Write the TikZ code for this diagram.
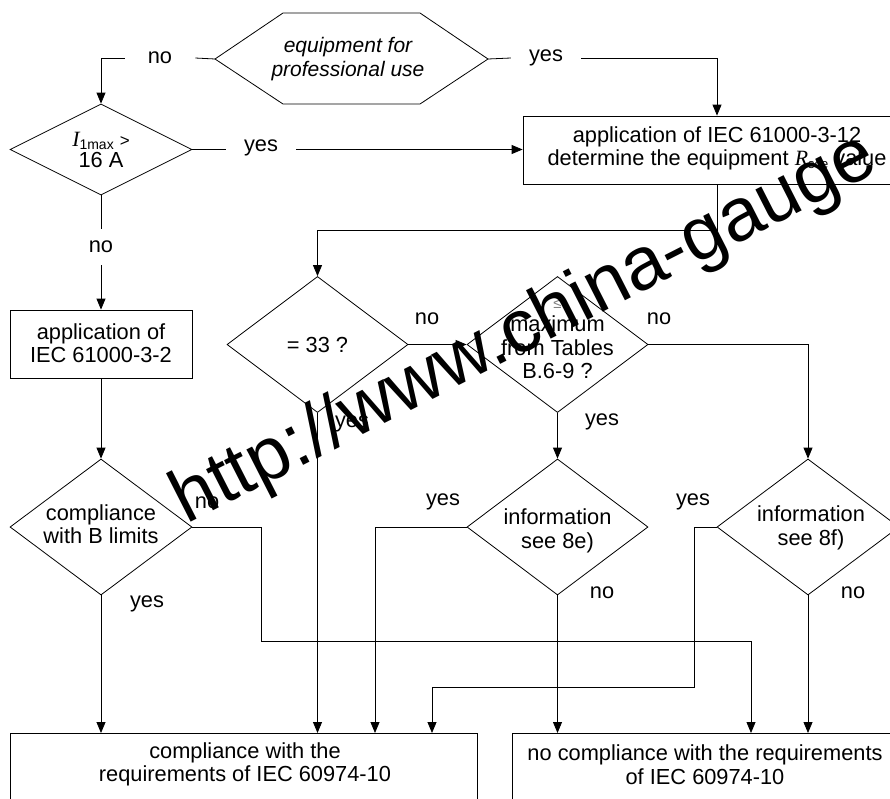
\documentclass[tikz,border=0pt]{standalone}
\usepackage{fontspec}
\setmainfont{Liberation Sans}
\newfontfamily\tmsfont{Liberation Serif}
\usetikzlibrary{shapes.geometric,arrows.meta}
\begin{document}
\begin{tikzpicture}[x=1pt,y=-1pt,
  every node/.style={font=\fontsize{21.8}{23.5}\selectfont},
  dia/.style={draw,diamond,inner sep=0pt,line width=0.8pt},
  box/.style={draw,rectangle,inner sep=0pt,line width=0.8pt},
  txt/.style={align=center,inner sep=0pt},
  lbl/.style={inner sep=0pt},
  con/.style={line width=0.8pt},
  arr/.style={con,-{Triangle[length=11pt,width=9pt]}},
  wm/.style={font=\fontsize{75}{75}\selectfont,inner sep=0pt,anchor=base west,rotate=27}
]
\clip (0,0) rectangle (890,798);
% hexagon
\coordinate (hexL) at (215,59);
\coordinate (hexR) at (488,59);
\draw[line width=0.8pt] (hexL) -- (283,13) -- (420,13) -- (hexR) -- (420,104) -- (283,104) -- cycle;
\node[txt,font=\fontsize{21}{23.5}\selectfont\itshape] (hext) at (348,59) {equipment for\\professional use};
% diamonds
\node[dia,minimum width=182pt,minimum height=91pt] (dA) at (101,149.5) {};
\node[txt] (dAt) at (101,150) {{\tmsfont\itshape I}\raisebox{-3pt}{\fontsize{14}{14}\selectfont 1max} \fontsize{17}{17}\selectfont>\\[-2pt]16 A};
\node[dia,minimum width=181pt,minimum height=136pt] (dB) at (317.5,344.5) {};
\node[txt] (dBt) at (317.5,344.5) {= 33 ?};
\node[dia,minimum width=181pt,minimum height=136pt] (dC) at (557.5,344.5) {};
\node[txt] (dCt) at (557.5,339) {{\color{gray}\fontsize{15}{15}\selectfont ≤}\\maximum\\from Tables\\B.6-9 ?};
\node[dia,minimum width=182pt,minimum height=136pt] (dD) at (101,527) {};
\node[txt] (dDt) at (101,524) {compliance\\with B limits};
\node[dia,minimum width=181pt,minimum height=136pt] (dE) at (557.5,527) {};
\node[txt] (dEt) at (557.5,531) {information\\see 8e)};
\node[dia,minimum width=182pt,minimum height=136pt] (dF) at (808,527) {};
\node[txt] (dFt) at (811,528) {information\\see 8f)};
% boxes
\node[box,minimum width=388pt,minimum height=68pt] (bA) at (717,150) {};
\node[txt] (bAt) at (717,148.5) {application of IEC 61000-3-12\\determine the equipment {\tmsfont\itshape R}\raisebox{-3pt}{\fontsize{13}{13}\selectfont sce} value};
\node[box,minimum width=182pt,minimum height=68pt] (bB) at (101,344) {};
\node[txt] (bBt) at (101,343) {application of\\IEC 61000-3-2};
\node[box,minimum width=467pt,minimum height=70pt] (bL) at (243.5,768) {};
\node[txt] (bLt) at (245,764.5) {compliance with the\\requirements of IEC 60974-10};
\node[box,minimum width=386pt,minimum height=70pt] (bR) at (705,768) {};
\node[txt] (bRt) at (705,764.5) {no compliance with the requirements\\of IEC 60974-10};
% target coordinates on box tops
\coordinate (t1) at (751,733);
\coordinate (t2) at (101,733);
\coordinate (t3) at (317.5,733);
\coordinate (t4) at (432,733);
\coordinate (t5) at (375,733);
\coordinate (t6) at (557.5,733);
\coordinate (t7) at (808,733);
\coordinate (k1) at (261,641);
\coordinate (k3) at (694,687);
% labels with gaps
\node[lbl,inner xsep=23pt] (n1) at (160,58) {no};
\node[lbl,inner xsep=18pt] (n2) at (546,58) {yes};
\node[lbl,inner xsep=18pt] (n3) at (261,148) {yes};
\node[lbl,minimum height=36pt] (n4) at (101,247) {no};
% connectors
\draw[con] (hexL) -- (n1.east);
\draw[arr] (n1.west) -| (dA.north);
\draw[con] (hexR) -- (n2.west);
\draw[arr] (n2.east) -| (bA.north);
\draw[con] (dA.east) -- (n3.west |- dA.east);
\draw[arr] (n3.east |- dA.east) -- (bA.west |- dA.east);
\draw[con] (dA.south) -- (n4.north);
\draw[arr] (n4.south) -- (bB.north);
\draw[arr] (bB.south) -- (dD.north);
\draw[arr] (bA.south) -- ++(0,46) -| (dB.north);
\draw[arr] (dB.east) -- (dC.west);
\draw[arr] (dB.south) -- (t3);
\draw[arr] (dC.east) -| (dF.north);
\draw[arr] (dC.south) -- (dE.north);
\draw[arr] (dD.east) -| (k1) -| (t1);
\draw[arr] (dD.south) -- (t2);
\draw[arr] (dE.west) -| (t5);
\draw[arr] (dE.south) -- (t6);
\draw[arr] (dF.west) -| (k3) -| (t4);
\draw[arr] (dF.south) -- (t7);
% branch labels
\node[lbl] (l1) at (427,319) {no};
\node[lbl] (l2) at (352,424) {yes};
\node[lbl] (l3) at (659,319) {no};
\node[lbl] (l4) at (602,422) {yes};
\node[lbl] (l5) at (207,503) {no};
\node[lbl] (l6) at (147,604) {yes};
\node[lbl] (l7) at (443,502) {yes};
\node[lbl] (l8) at (602,593) {no};
\node[lbl] (l9) at (693,502) {yes};
\node[lbl] (l10) at (853,593) {no};
% watermark
\node[wm] (wmk) at (186,525) {http://www.china-gauge};
\end{tikzpicture}
\end{document}
